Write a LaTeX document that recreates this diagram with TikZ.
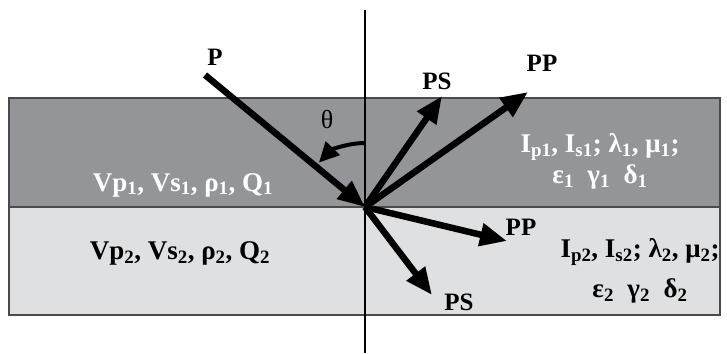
\documentclass[tikz,border=0pt]{standalone}
\usepackage{fontspec}
\setmainfont{Liberation Serif}
\usetikzlibrary{arrows.meta}
\definecolor{UpperLayer}{HTML}{939598}
\definecolor{LowerLayer}{HTML}{DFE0E1}
\definecolor{Edge}{HTML}{4A4A4A}

\begin{document}
\begin{tikzpicture}[
      x=1pt,y=-1pt,
      layer/.style={draw=Edge,line width=1.4pt},
      ray/.style={-{Triangle[length=27pt,width=22pt]},line width=6.5pt,color=black},
      anglearrow/.style={-{Triangle[length=20pt,width=19pt]},line width=4pt,color=black},
      param/.style={font=\fontsize{27}{31}\selectfont\bfseries,align=center,inner sep=0pt},
      wave/.style={font=\fontsize{25}{27}\selectfont\bfseries,inner sep=0pt}
    ]
      \useasboundingbox (0,0) rectangle (727,353);
      % the two layers
      \filldraw[layer,fill=UpperLayer] (9,98) rectangle (720,207);
      \filldraw[layer,fill=LowerLayer] (9,207) rectangle (720,315);
      % normal to the interface
      \coordinate (normtop) at (365,10);
      \coordinate (normbot) at (365,353);
      \draw[line width=1.8pt] (normtop) -- (normbot);
      % point of incidence and ray ends
      \coordinate (o) at (365,207);
      \coordinate (psrc) at (205,75);
      \coordinate (refpp) at (528,92);
      \coordinate (refps) at (442,96);
      \coordinate (trapp) at (507,241);
      \coordinate (traps) at (432,295);
      \coordinate (thetastart) at (365,143);
      \node[wave] (plabel) at (215,57) {P};
      \node[wave] (refpplabel) at (542,63) {PP};
      \node[wave] (refpslabel) at (437,81) {PS};
      \node[wave] (trapplabel) at (521,227) {PP};
      \node[wave] (trapslabel) at (459,302) {PS};
      \node[wave,font=\fontsize{26}{28}\selectfont] (theta) at (327,120) {θ};
      \draw[ray] (psrc) -- (o);
      \draw[ray] (o) -- (refpp);
      \draw[ray] (o) -- (refps);
      \draw[ray] (o) -- (trapp);
      \draw[ray] (o) -- (traps);
      \draw[anglearrow] (thetastart) arc[start angle=-90,end angle=-136,radius=64];
      % layer parameters
      \node[param,text=white] (upleft) at (183,185)
        {Vp\textsubscript{1}, Vs\textsubscript{1}, ρ\textsubscript{1}, Q\textsubscript{1}};
      \node[param] (lowleft) at (180,253)
        {Vp\textsubscript{2}, Vs\textsubscript{2}, ρ\textsubscript{2}, Q\textsubscript{2}};
      \node[param,text=white] (upright) at (600,161)
        {I\textsubscript{p1}, I\textsubscript{s1}; λ\textsubscript{1}, μ\textsubscript{1};\\
         ε\textsubscript{1}\ \ γ\textsubscript{1}\ \ δ\textsubscript{1}};
      \node[param] (lowright) at (640,271)
        {I\textsubscript{p2}, I\textsubscript{s2}; λ\textsubscript{2}, μ\textsubscript{2};\\[9pt]
         ε\textsubscript{2}\ \ γ\textsubscript{2}\ \ δ\textsubscript{2}};
    \end{tikzpicture}
\end{document}
